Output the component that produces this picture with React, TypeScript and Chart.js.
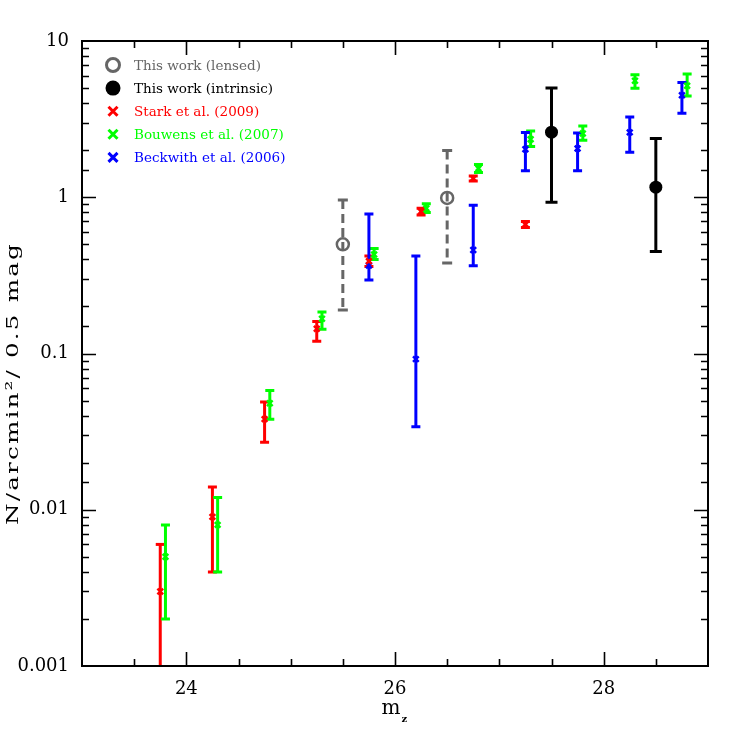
import React, { useEffect, useRef } from 'react';
import { Chart, registerables } from 'chart.js';

Chart.register(...registerables);

// ---- data ----
const lensedX = [25.5, 26.5];
const lensedY = [0.5, 0.99];
const lensedLo = [0.19, 0.38];
const lensedHi = [0.96, 1.99];

const intrinsicX = [27.5, 28.5];
const intrinsicY = [2.61, 1.16];
const intrinsicLo = [0.93, 0.45];
const intrinsicHi = [5.0, 2.38];

const starkX = [23.75, 24.25, 24.75, 25.25, 25.75, 26.25, 26.75, 27.25];
const starkY = [0.003, 0.009, 0.038, 0.144, 0.39, 0.81, 1.32, 0.67];
const starkLo = [0, 0.004, 0.027, 0.12, 0.36, 0.77, 1.27, 0.64];
const starkHi = [0.006, 0.014, 0.049, 0.16, 0.42, 0.85, 1.37, 0.7];

const bouwensX = [23.8, 24.3, 24.8, 25.3, 25.8, 26.3, 26.8, 27.3, 27.8, 28.3, 28.8];
const bouwensY = [0.005, 0.008, 0.048, 0.167, 0.43, 0.85, 1.53, 2.35, 2.56, 5.57, 5.17];
const bouwensLo = [0.002, 0.004, 0.038, 0.143, 0.4, 0.8, 1.44, 2.11, 2.32, 4.98, 4.45];
const bouwensHi = [0.008, 0.012, 0.058, 0.184, 0.47, 0.91, 1.62, 2.65, 2.86, 6.08, 6.14];

const beckwithX = [25.75, 26.2, 26.75, 27.25, 27.75, 28.25, 28.75];
const beckwithY = [0.366, 0.092, 0.46, 2.03, 2.05, 2.6, 4.5];
const beckwithLo = [0.295, 0.034, 0.365, 1.48, 1.48, 1.94, 3.45];
const beckwithHi = [0.78, 0.42, 0.89, 2.6, 2.58, 3.26, 5.43];

const xMin = 23;
const xMax = 29;
const xLabelTicks = [24, 26, 28];
const yMin = 0.001;
const yMax = 10;

const seriesLabels = [
  'This work (lensed)',
  'This work (intrinsic)',
  'Stark et al. (2009)',
  'Bouwens et al. (2007)',
  'Beckwith et al. (2006)',
];
const GREY = '#666666';
const BLACK = '#000000';
const RED = '#ff0000';
const GREEN = '#00ff00';
const BLUE = '#0000ff';
const seriesColors = [GREY, BLACK, RED, GREEN, BLUE];

const SERIF = '"DejaVu Serif", serif';

function pts(xs: number[], ys: number[]) {
  return xs.map((x, i) => ({ x, y: ys[i] }));
}

const errorBarPlugin = {
  id: 'errorBars',
  beforeDatasetsDraw(chart: any) {
    const { ctx, chartArea, scales } = chart;
    const xs = scales.x;
    const ys = scales.y;
    ctx.save();
    ctx.beginPath();
    ctx.rect(chartArea.left, chartArea.top, chartArea.right - chartArea.left, chartArea.bottom - chartArea.top);
    ctx.clip();
    chart.data.datasets.forEach((d: any) => {
      const lo: number[] = d.errLo;
      const hi: number[] = d.errHi;
      if (!lo) return;
      ctx.strokeStyle = d.barColor;
      ctx.lineWidth = 3;
      ctx.lineCap = 'butt';
      d.data.forEach((p: any, i: number) => {
        const px = xs.getPixelForValue(p.x);
        const yl = lo[i] > 0 ? ys.getPixelForValue(lo[i]) : chartArea.bottom + 10;
        const yh = ys.getPixelForValue(hi[i]);
        ctx.setLineDash(d.barDash || []);
        ctx.beginPath();
        ctx.moveTo(px, yh);
        ctx.lineTo(px, yl);
        ctx.stroke();
        ctx.setLineDash([]);
        const cw = d.capWidth / 2;
        ctx.beginPath();
        ctx.moveTo(px - cw, yh);
        ctx.lineTo(px + cw, yh);
        if (lo[i] > 0) {
          ctx.moveTo(px - cw, yl);
          ctx.lineTo(px + cw, yl);
        }
        ctx.stroke();
      });
    });
    ctx.restore();
  },
};

const framePlugin = {
  id: 'frameTicks',
  afterDatasetsDraw(chart: any) {
    const { ctx, chartArea, scales } = chart;
    const { left, right, top, bottom } = chartArea;
    ctx.save();
    ctx.strokeStyle = '#000';
    ctx.lineWidth = 1.6;
    const MAJ = 14;
    const MIN = 7;
    scales.x.ticks.forEach((t: any) => {
      const v = t.value;
      if (v <= xMin || v >= xMax) return;
      const px = Math.round(scales.x.getPixelForValue(v)) + 0.5;
      const len = xLabelTicks.includes(v) ? MAJ : MIN;
      ctx.beginPath();
      ctx.moveTo(px, bottom);
      ctx.lineTo(px, bottom - len);
      ctx.moveTo(px, top);
      ctx.lineTo(px, top + len);
      ctx.stroke();
    });
    scales.y.ticks.forEach((t: any) => {
      const v = t.value;
      if (v <= yMin * 1.0001 || v >= yMax * 0.9999) return;
      const l = Math.log10(v);
      const major = Math.abs(l - Math.round(l)) < 1e-6;
      const py = Math.round(scales.y.getPixelForValue(v)) + 0.5;
      const len = major ? MAJ : MIN;
      ctx.beginPath();
      ctx.moveTo(left, py);
      ctx.lineTo(left + len, py);
      ctx.moveTo(right, py);
      ctx.lineTo(right - len, py);
      ctx.stroke();
    });
    ctx.lineWidth = 2;
    ctx.strokeRect(left, top, right - left, bottom - top);
    ctx.restore();
  },
  afterDraw(chart: any) {
    const { ctx, chartArea } = chart;
    const { left, top, bottom } = chartArea;
    ctx.save();
    // legend
    ctx.font = `13.5px ${SERIF}`;
    ctx.textBaseline = 'middle';
    ctx.textAlign = 'left';
    seriesLabels.forEach((lab, i) => {
      const cy = top + 24 + i * 23.1;
      const cx = left + 31;
      const c = seriesColors[i];
      ctx.strokeStyle = c;
      ctx.fillStyle = c;
      if (i === 0) {
        ctx.lineWidth = 3;
        ctx.beginPath();
        ctx.arc(cx, cy, 6.5, 0, Math.PI * 2);
        ctx.stroke();
      } else if (i === 1) {
        ctx.beginPath();
        ctx.arc(cx, cy, 7.5, 0, Math.PI * 2);
        ctx.fill();
      } else {
        ctx.lineWidth = 3;
        ctx.beginPath();
        ctx.moveTo(cx - 4.5, cy - 4.5);
        ctx.lineTo(cx + 4.5, cy + 4.5);
        ctx.moveTo(cx + 4.5, cy - 4.5);
        ctx.lineTo(cx - 4.5, cy + 4.5);
        ctx.stroke();
      }
      ctx.fillText(lab, left + 52, cy + 1);
    });
    // y title (wide, Hershey-like)
    ctx.fillStyle = '#000';
    ctx.font = `17px ${SERIF}`;
    const yTitle = 'N/arcmin\u00b2/ 0.5 mag';
    (ctx as any).letterSpacing = '1.5px';
    const w0 = ctx.measureText(yTitle).width;
    const sx = 283 / w0;
    ctx.save();
    ctx.translate(17.5, (top + bottom) / 2 + 30);
    ctx.rotate(-Math.PI / 2);
    ctx.scale(sx, 1);
    ctx.textAlign = 'left';
    ctx.textBaseline = 'alphabetic';
    ctx.fillText(yTitle, -w0 / 2, 0);
    ctx.restore();
    (ctx as any).letterSpacing = '0px';
    // x title m_z
    const xc = (chartArea.left + chartArea.right) / 2;
    ctx.textBaseline = 'alphabetic';
    ctx.textAlign = 'left';
    ctx.font = `20px ${SERIF}`;
    const mw = ctx.measureText('m').width;
    ctx.fillText('m', xc - mw / 2 - 4, bottom + 48);
    ctx.font = `bold 10px ${SERIF}`;
    ctx.fillText('z', xc + mw / 2 - 3, bottom + 56);
    ctx.restore();
  },
};

function fmtDecade(v: number) {
  const l = Math.log10(v);
  if (Math.abs(l - Math.round(l)) > 1e-6) return '';
  const e = Math.round(l);
  if (e >= 0) return String(Math.pow(10, e));
  return '0.' + '0'.repeat(-e - 1) + '1';
}

export default function App() {
  const ref = useRef<HTMLCanvasElement>(null);
  useEffect(() => {
    const canvas = ref.current;
    if (!canvas) return;
    const chart = new Chart(canvas, {
      type: 'scatter',
      data: {
        datasets: [
          {
            label: seriesLabels[0],
            data: pts(lensedX, lensedY),
            pointStyle: 'circle',
            radius: 6,
            borderWidth: 2.5,
            borderColor: GREY,
            backgroundColor: 'rgba(0,0,0,0)',
            errLo: lensedLo, errHi: lensedHi, barColor: GREY, barDash: [9, 5], capWidth: 10,
          } as any,
          {
            label: seriesLabels[1],
            data: pts(intrinsicX, intrinsicY),
            pointStyle: 'circle',
            radius: 6.5,
            borderWidth: 0,
            backgroundColor: BLACK,
            borderColor: BLACK,
            errLo: intrinsicLo, errHi: intrinsicHi, barColor: BLACK, capWidth: 12,
          } as any,
          {
            label: seriesLabels[2],
            data: pts(starkX, starkY),
            pointStyle: 'crossRot',
            radius: 4,
            borderWidth: 2.5,
            borderColor: RED,
            backgroundColor: RED,
            errLo: starkLo, errHi: starkHi, barColor: RED, capWidth: 9,
          } as any,
          {
            label: seriesLabels[3],
            data: pts(bouwensX, bouwensY),
            pointStyle: 'crossRot',
            radius: 4,
            borderWidth: 2.5,
            borderColor: GREEN,
            backgroundColor: GREEN,
            errLo: bouwensLo, errHi: bouwensHi, barColor: GREEN, capWidth: 9,
          } as any,
          {
            label: seriesLabels[4],
            data: pts(beckwithX, beckwithY),
            pointStyle: 'crossRot',
            radius: 4,
            borderWidth: 2.5,
            borderColor: BLUE,
            backgroundColor: BLUE,
            errLo: beckwithLo, errHi: beckwithHi, barColor: BLUE, capWidth: 9,
          } as any,
        ],
      },
      options: {
        animation: false,
        responsive: false,
        devicePixelRatio: 1,
        layout: { padding: { left: 0, top: 41, right: 39, bottom: 0 } },
        plugins: { legend: { display: false }, tooltip: { enabled: false } },
        scales: {
          x: {
            type: 'linear',
            position: 'bottom',
            min: xMin,
            max: xMax,
            ticks: {
              stepSize: 0.5,
              autoSkip: false,
              maxRotation: 0,
              color: '#000',
              padding: 13,
              font: { family: SERIF, size: 18 },
              callback: (v: any) => (xLabelTicks.includes(Number(v)) ? String(v) : ''),
            },
            grid: { display: false, drawTicks: false },
            border: { display: false },
            afterFit: (s: any) => { s.height = 81; },
          },
          y: {
            type: 'logarithmic',
            min: yMin,
            max: yMax,
            ticks: {
              autoSkip: false,
              color: '#000',
              padding: 13,
              font: { family: SERIF, size: 18 },
              callback: (v: any) => fmtDecade(Number(v)),
            },
            grid: { display: false, drawTicks: false },
            border: { display: false },
            afterFit: (s: any) => { s.width = 82; },
          },
        },
      },
      plugins: [errorBarPlugin, framePlugin],
    } as any);
    return () => chart.destroy();
  }, []);
  return (
    <div style={{ position: 'absolute', left: 0, top: 0, width: 747, height: 747, background: '#fff' }}>
      <canvas ref={ref} width={747} height={747} style={{ display: 'block', width: 747, height: 747 }} />
    </div>
  );
}
